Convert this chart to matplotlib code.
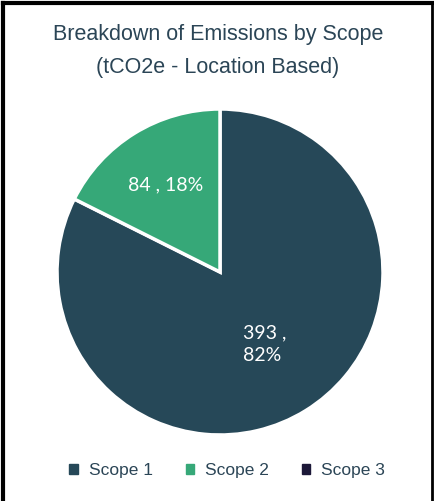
import matplotlib
matplotlib.use("Agg")
import matplotlib.pyplot as plt
import numpy as np
from matplotlib.patches import Patch
from matplotlib.lines import Line2D

categories = ["Scope 1", "Scope 2", "Scope 3"]
values = [393, 84, 0]
pct_labels = ["393 ,\n82%", "84 , 18%", ""]
colors = ["#264858", "#36A878", "#1C1838"]
title = "Breakdown of Emissions by Scope\n(tCO2e - Location Based)"

W, H = 435, 501
fig = plt.figure(figsize=(W / 100, H / 100), dpi=100)
fig.patch.set_facecolor("white")

cx, cy, r = 220, 272, 163
ax = fig.add_axes([(cx - r) / W, (H - cy - r) / H, 2 * r / W, 2 * r / H])

nz = [i for i, v in enumerate(values) if v > 0]
wedges, _ = ax.pie([values[i] for i in nz], colors=[colors[i] for i in nz],
                   startangle=90, counterclock=False, radius=1,
                   wedgeprops=dict(edgecolor="white", linewidth=2.5))
ax.set_xlim(-1, 1)
ax.set_ylim(-1, 1)
ax.set_aspect("equal")
ax.axis("off")

label_r = {0: 0.52, 1: 0.63}
for w, i in zip(wedges, nz):
    ang = np.deg2rad((w.theta1 + w.theta2) / 2)
    rr = label_r.get(i, 0.6)
    x, y = rr * np.cos(ang), rr * np.sin(ang)
    ax.text(x, y, pct_labels[i], color="white", fontsize=14, family="Lato",
            ha="center", va="center", linespacing=1.35, multialignment="left")

fig.text(218 / W, 1 - 51 / H, title, ha="center", va="center", fontsize=15.5,
         color="#2B4556", family="Liberation Sans", linespacing=1.8)

handles = [Patch(facecolor=c, edgecolor=c) for c in colors]
leg = fig.legend(handles, categories, loc="center", bbox_to_anchor=(227 / W, 1 - 471 / H),
                 ncol=3, frameon=False, handlelength=0.5, handleheight=0.5,
                 handletextpad=0.6, columnspacing=1.9,
                 prop=dict(family="Liberation Sans", size=12.5))
for t in leg.get_texts():
    t.set_color("#2B4556")

# border
fig.add_artist(Line2D([3 / W, 3 / W], [0, 1 - 3 / H], color="black", lw=3, transform=fig.transFigure))
fig.add_artist(Line2D([3 / W, 432 / W], [1 - 3 / H, 1 - 3 / H], color="black", lw=3, transform=fig.transFigure))
fig.add_artist(Line2D([432 / W, 432 / W], [0, 1 - 3 / H], color="black", lw=2, transform=fig.transFigure))

fig.savefig("out.png", dpi=100, facecolor="white")
